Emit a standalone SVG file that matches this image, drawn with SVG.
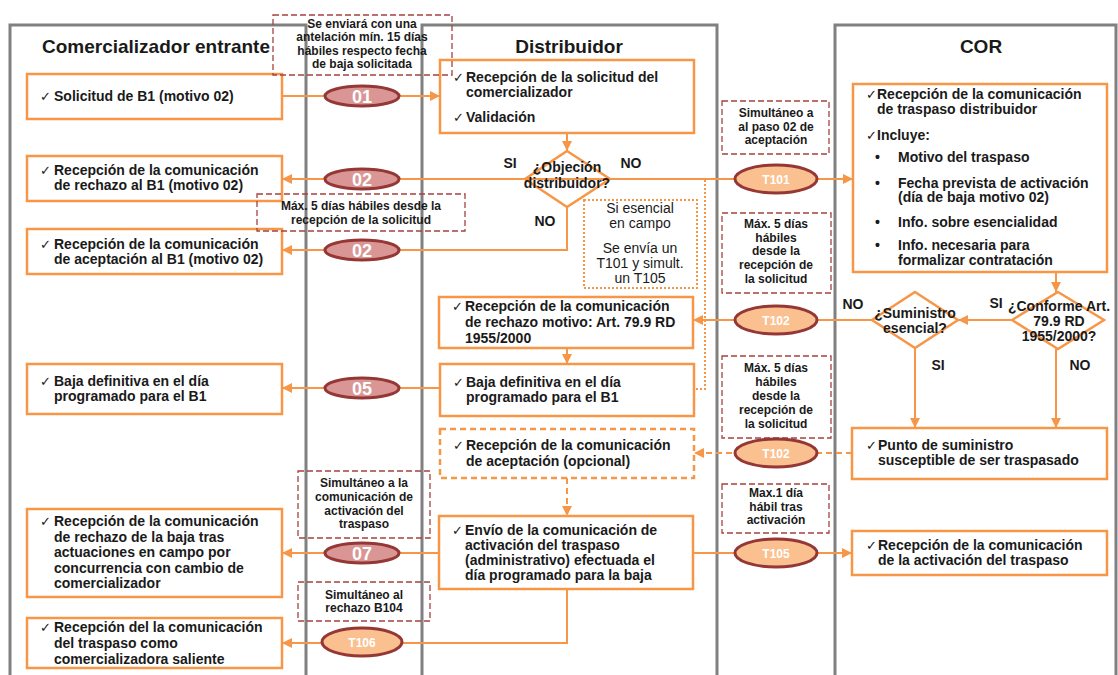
<svg xmlns="http://www.w3.org/2000/svg" width="1118" height="675" viewBox="0 0 1118 675">
<style>
text{font-family:"Liberation Sans",Arial,sans-serif;fill:#1a1a1a}
.lane{fill:none;stroke:#808080;stroke-width:3}
.title{font-size:19px;font-weight:bold;text-anchor:middle}
.box{fill:#fff;stroke:#F79646;stroke-width:2.5}
.dbox{fill:#fff;stroke:#F79646;stroke-width:2.5;stroke-dasharray:6 4}
.t{font-size:14px;font-weight:bold}
.ck{font-size:13px;font-weight:normal}
.dia{fill:none;stroke:#F79646;stroke-width:2.5}
.dt{font-size:14px;font-weight:bold;text-anchor:middle}
.lbl{font-size:14px;font-weight:bold;text-anchor:middle}
.note{fill:none;stroke:#A5423F;stroke-width:1.3;stroke-dasharray:6 3}
.nt{font-size:12px;font-weight:bold;text-anchor:middle}
.dot{fill:#fff;stroke:#F79646;stroke-width:2;stroke-dasharray:2 2}
.dott{font-size:14px;text-anchor:middle}
.e1{fill:#D99694;stroke:#953735;stroke-width:3}
.e2{fill:#FAC090;stroke:#953735;stroke-width:3}
.et1{font-size:18px;font-weight:bold;fill:#fff;text-anchor:middle}
.et2{font-size:12px;font-weight:bold;fill:#fff;text-anchor:middle}
.c{fill:none;stroke:#F79646;stroke-width:2}
.cd{fill:none;stroke:#F79646;stroke-width:2;stroke-dasharray:6 4}
.cdot{fill:none;stroke:#F79646;stroke-width:2;stroke-dasharray:2 2}
</style>
<defs>
<marker id="ah" viewBox="0 0 10 10" refX="10" refY="5" markerWidth="10" markerHeight="10" markerUnits="userSpaceOnUse" orient="auto"><path d="M0,0 L10,5 L0,10 z" fill="#F79646"/></marker>
</defs>
<rect width="1118" height="675" fill="#fff"/>

<g id="lanes">
<path class="lane" d="M10,675 V25 H306 V675"/>
<path class="lane" d="M422,675 V25 H717 V675"/>
<path class="lane" d="M835,675 V25 H1116 V675"/>
<text class="title" x="156" y="53">Comercializador entrante</text>
<text class="title" x="569" y="53">Distribuidor</text>
<text class="title" x="981" y="53">COR</text>
</g>

<g id="connectors">
<path class="c" d="M282,96 H440" marker-end="url(#ah)"/>
<path class="c" d="M567,133 V151" marker-end="url(#ah)"/>
<path class="c" d="M567,179 H282" marker-end="url(#ah)"/>
<path class="c" d="M567,179 H853" marker-end="url(#ah)"/>
<path class="c" d="M567,207 V250 H282" marker-end="url(#ah)"/>
<path class="cdot" d="M705,180 V389 H694"/>
<path class="c" d="M1056,272 V292" marker-end="url(#ah)"/>
<path class="c" d="M1012,320 H958" marker-end="url(#ah)"/>
<path class="c" d="M872,320 H693" marker-end="url(#ah)"/>
<path class="c" d="M567,348 V364" marker-end="url(#ah)"/>
<path class="c" d="M440,388 H282" marker-end="url(#ah)"/>
<path class="c" d="M915,348 V428" marker-end="url(#ah)"/>
<path class="c" d="M1056,349 V428" marker-end="url(#ah)"/>
<path class="cd" d="M852,453 H694" marker-end="url(#ah)"/>
<path class="cd" d="M567,478 V516" marker-end="url(#ah)"/>
<path class="c" d="M439,553 H282" marker-end="url(#ah)"/>
<path class="c" d="M693,553 H852" marker-end="url(#ah)"/>
<path class="c" d="M567,589 V643 H282" marker-end="url(#ah)"/>
</g>

<g id="n-solicitud">
<rect class="box" x="27" y="74" width="255" height="45"/>
<text class="t"><tspan class="ck" x="40" y="101">✓</tspan><tspan x="54" y="101">Solicitud de B1 (motivo 02)</tspan></text>
</g>
<g id="n-rechazo-b1">
<rect class="box" x="27" y="156" width="255" height="45"/>
<text class="t"><tspan class="ck" x="40" y="175">✓</tspan><tspan x="54" y="175">Recepción de la comunicación</tspan><tspan x="54" y="190">de rechazo al B1 (motivo 02)</tspan></text>
</g>
<g id="n-aceptacion-b1">
<rect class="box" x="27" y="229" width="255" height="45"/>
<text class="t"><tspan class="ck" x="40" y="249">✓</tspan><tspan x="54" y="249">Recepción de la comunicación</tspan><tspan x="54" y="264">de aceptación al B1 (motivo 02)</tspan></text>
</g>
<g id="n-baja-com">
<rect class="box" x="27" y="364" width="255" height="50"/>
<text class="t"><tspan class="ck" x="40" y="386">✓</tspan><tspan x="54" y="386">Baja definitiva en el día</tspan><tspan x="54" y="401">programado para el B1</tspan></text>
</g>
<g id="n-rechazo-baja">
<rect class="box" x="27" y="509" width="255" height="88"/>
<text class="t"><tspan class="ck" x="40" y="526">✓</tspan><tspan x="54" y="526">Recepción de la comunicación</tspan><tspan x="54" y="541.5">de rechazo de la baja tras</tspan><tspan x="54" y="557">actuaciones en campo por</tspan><tspan x="54" y="572.5">concurrencia con cambio de</tspan><tspan x="54" y="588">comercializador</tspan></text>
</g>
<g id="n-saliente">
<rect class="box" x="27" y="618" width="255" height="50"/>
<text class="t"><tspan class="ck" x="40" y="632">✓</tspan><tspan x="54" y="632">Recepción del la comunicación</tspan><tspan x="54" y="648">del traspaso como</tspan><tspan x="54" y="664">comercializadora saliente</tspan></text>
</g>

<g id="n-recepcion-solicitud">
<rect class="box" x="440" y="60" width="254" height="73"/>
<text class="t"><tspan class="ck" x="453" y="82">✓</tspan><tspan x="466" y="82">Recepción de la solicitud del</tspan><tspan x="466" y="97">comercializador</tspan><tspan class="ck" x="453" y="122">✓</tspan><tspan x="466" y="122">Validación</tspan></text>
</g>
<g id="n-objecion">
<polygon class="dia" points="567,151 610,179 567,207 525,179"/>
<text class="dt" x="567" y="172">¿Objeción</text>
<text class="dt" x="567" y="188">distribuidor?</text>
<text class="lbl" x="510" y="168">SI</text>
<text class="lbl" x="631" y="168">NO</text>
<text class="lbl" x="545" y="226">NO</text>
</g>
<g id="n-esencial-campo">
<rect class="dot" x="584" y="200" width="113" height="88"/>
<text class="dott" x="640" y="213">Si esencial</text>
<text class="dott" x="640" y="228">en campo</text>
<text class="dott" x="640" y="253">Se envía un</text>
<text class="dott" x="640" y="268">T101 y simult.</text>
<text class="dott" x="640" y="283">un T105</text>
</g>
<g id="n-rechazo-motivo">
<rect class="box" x="439" y="297" width="254" height="51"/>
<text class="t"><tspan class="ck" x="452" y="311">✓</tspan><tspan x="465" y="311">Recepción de la comunicación</tspan><tspan x="465" y="327">de rechazo motivo: Art. 79.9 RD</tspan><tspan x="465" y="343">1955/2000</tspan></text>
</g>
<g id="n-baja-dist">
<rect class="box" x="440" y="364" width="254" height="52"/>
<text class="t"><tspan class="ck" x="453" y="387">✓</tspan><tspan x="466" y="387">Baja definitiva en el día</tspan><tspan x="466" y="402">programado para el B1</tspan></text>
</g>
<g id="n-aceptacion-opcional">
<rect class="dbox" x="440" y="429" width="254" height="49"/>
<text class="t"><tspan class="ck" x="453" y="450">✓</tspan><tspan x="466" y="450">Recepción de la comunicación</tspan><tspan x="466" y="466">de aceptación (opcional)</tspan></text>
</g>
<g id="n-envio-activacion">
<rect class="box" x="439" y="516" width="254" height="73"/>
<text class="t"><tspan class="ck" x="452" y="535">✓</tspan><tspan x="465" y="535">Envío de la comunicación de</tspan><tspan x="465" y="550">activación del traspaso</tspan><tspan x="465" y="565">(administrativo) efectuada el</tspan><tspan x="465" y="580">día programado para la baja</tspan></text>
</g>

<g id="n-cor-recepcion">
<rect class="box" x="853" y="84" width="254" height="188"/>
<text class="t"><tspan class="ck" x="866" y="99">✓</tspan><tspan x="877" y="99">Recepción de la comunicación</tspan><tspan x="877" y="114">de traspaso distribuidor</tspan><tspan class="ck" x="866" y="140">✓</tspan><tspan x="877" y="140">Incluye:</tspan>
<tspan x="875" y="162">•</tspan><tspan x="898" y="162">Motivo del traspaso</tspan>
<tspan x="875" y="188">•</tspan><tspan x="898" y="188">Fecha prevista de activación</tspan><tspan x="898" y="202">(día de baja motivo 02)</tspan>
<tspan x="875" y="227">•</tspan><tspan x="898" y="227">Info. sobre esencialidad</tspan>
<tspan x="875" y="250">•</tspan><tspan x="898" y="250">Info. necesaria para</tspan><tspan x="898" y="265">formalizar contratación</tspan></text>
</g>
<g id="n-conforme">
<polygon class="dia" points="1058,292 1104,320 1058,349 1012,320"/>
<text class="dt" x="1059" y="311">¿Conforme Art.</text>
<text class="dt" x="1059" y="326">79.9 RD</text>
<text class="dt" x="1059" y="341">1955/2000?</text>
<text class="lbl" x="996" y="308">SI</text>
<text class="lbl" x="1080" y="370">NO</text>
</g>
<g id="n-suministro">
<polygon class="dia" points="915,292 958,320 915,348 872,320"/>
<text class="dt" x="915" y="318">¿Suministro</text>
<text class="dt" x="915" y="333">esencial?</text>
<text class="lbl" x="853" y="309">NO</text>
<text class="lbl" x="938" y="370">SI</text>
</g>
<g id="n-punto">
<rect class="box" x="852" y="428" width="255" height="51"/>
<text class="t"><tspan class="ck" x="866" y="450">✓</tspan><tspan x="878" y="450">Punto de suministro</tspan><tspan x="878" y="465">susceptible de ser traspasado</tspan></text>
</g>
<g id="n-cor-activacion">
<rect class="box" x="852" y="531" width="255" height="44"/>
<text class="t"><tspan class="ck" x="866" y="550">✓</tspan><tspan x="878" y="550">Recepción de la comunicación</tspan><tspan x="878" y="565">de la activación del traspaso</tspan></text>
</g>

<g id="notes">
<rect class="note" x="273" y="15" width="179" height="60"/>
<text class="nt" x="362" y="28">Se enviará con una</text>
<text class="nt" x="362" y="41">antelación mín. 15 días</text>
<text class="nt" x="362" y="55">hábiles respecto fecha</text>
<text class="nt" x="362" y="68">de baja solicitada</text>
<rect class="note" x="257" y="194" width="208" height="37"/>
<text class="nt" x="361" y="210">Máx. 5 días hábiles desde la</text>
<text class="nt" x="361" y="224">recepción de la solicitud</text>
<rect class="note" x="722" y="101" width="107" height="53"/>
<text class="nt" x="776" y="117">Simultáneo a</text>
<text class="nt" x="776" y="131">al paso 02 de</text>
<text class="nt" x="776" y="144">aceptación</text>
<rect class="note" x="722" y="213" width="109" height="80"/>
<text class="nt" x="776" y="228">Máx. 5 días</text>
<text class="nt" x="776" y="242">hábiles</text>
<text class="nt" x="776" y="255">desde la</text>
<text class="nt" x="776" y="269">recepción de</text>
<text class="nt" x="776" y="283">la solicitud</text>
<rect class="note" x="722" y="356" width="109" height="82"/>
<text class="nt" x="776" y="372">Máx. 5 días</text>
<text class="nt" x="776" y="386">hábiles</text>
<text class="nt" x="776" y="400">desde la</text>
<text class="nt" x="776" y="414">recepción de</text>
<text class="nt" x="776" y="428">la solicitud</text>
<rect class="note" x="722" y="484" width="107" height="49"/>
<text class="nt" x="776" y="497">Max.1 día</text>
<text class="nt" x="776" y="511">hábil tras</text>
<text class="nt" x="776" y="524">activación</text>
<rect class="note" x="298" y="471" width="132" height="67"/>
<text class="nt" x="364" y="487">Simultáneo a la</text>
<text class="nt" x="364" y="501">comunicación de</text>
<text class="nt" x="364" y="515">activación del</text>
<text class="nt" x="364" y="528">traspaso</text>
<rect class="note" x="298" y="582" width="132" height="39"/>
<text class="nt" x="364" y="599">Simultáneo al</text>
<text class="nt" x="364" y="612">rechazo B104</text>
</g>

<g id="m01"><ellipse class="e1" cx="362" cy="96" rx="37" ry="10"/><text class="et1" x="362" y="102.5">01</text></g>
<g id="m02a"><ellipse class="e1" cx="362" cy="179" rx="37" ry="10"/><text class="et1" x="362" y="185.5">02</text></g>
<g id="m02b"><ellipse class="e1" cx="362" cy="250" rx="37" ry="10"/><text class="et1" x="362" y="256.5">02</text></g>
<g id="m05"><ellipse class="e1" cx="362" cy="388" rx="37" ry="10"/><text class="et1" x="362" y="394.5">05</text></g>
<g id="m07"><ellipse class="e1" cx="362" cy="553" rx="37" ry="10"/><text class="et1" x="362" y="559.5">07</text></g>
<g id="mT101"><ellipse class="e2" cx="776" cy="179" rx="41" ry="14"/><text class="et2" x="776" y="183.5">T101</text></g>
<g id="mT102a"><ellipse class="e2" cx="776" cy="320" rx="41" ry="14"/><text class="et2" x="776" y="324.5">T102</text></g>
<g id="mT102b"><ellipse class="e2" cx="776" cy="453" rx="41" ry="14"/><text class="et2" x="776" y="457.5">T102</text></g>
<g id="mT105"><ellipse class="e2" cx="776" cy="553" rx="41" ry="14"/><text class="et2" x="776" y="557.5">T105</text></g>
<g id="mT106"><ellipse class="e2" cx="362" cy="642" rx="40" ry="14"/><text class="et2" x="362" y="646.5">T106</text></g>
</svg>
